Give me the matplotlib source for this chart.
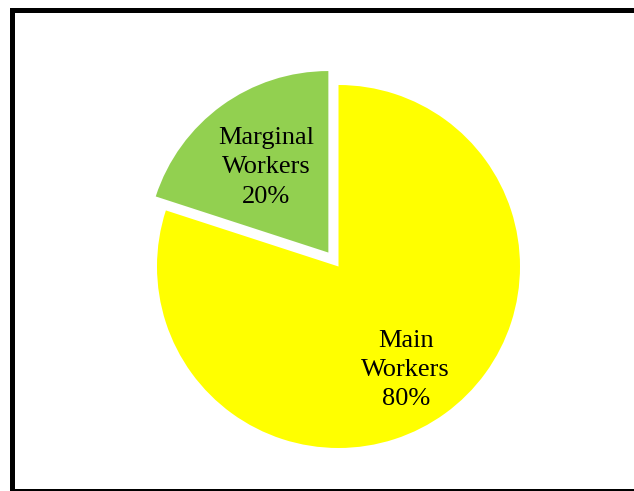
import matplotlib
matplotlib.use("Agg")
import matplotlib.pyplot as plt
from matplotlib.patches import Rectangle
import numpy as np

# Data
labels = ["Marginal\nWorkers", "Main\nWorkers"]
shares = [20, 80]
colors = ["#92D050", "#FFFF00"]
explode = [0.095, 0]

W, H = 634, 491
R = 181.5           # pie radius in pixels
cx, cy = 338.5, 266.5  # pie centre, pixels from top-left

fig = plt.figure(figsize=(W / 100, H / 100), dpi=100)
ax = fig.add_axes([0, 0, 1, 1])

wedges, texts = ax.pie(shares, colors=colors, explode=explode, startangle=90,
                       counterclock=True, radius=1.0,
                       wedgeprops=dict(linewidth=0))

# place labels inside the wedges (distance, angle tweak)
label_pos = [(0.58, 0.0), (0.68, -3.0)]
for w, lab, s, (d, da) in zip(wedges, labels, shares, label_pos):
    ang = np.deg2rad((w.theta1 + w.theta2) / 2 + da)
    x0, y0 = w.center
    ax.text(x0 + d * np.cos(ang), y0 + d * np.sin(ang), f"{lab}\n{s}%",
            ha="center", va="center", fontsize=19, family="Liberation Serif",
            linespacing=1.42)

ax.set_xlim(-cx / R, (W - cx) / R)
ax.set_ylim(-(H - cy) / R, cy / R)
ax.set_aspect("auto")
ax.axis("off")

# outer border
fig.patches.append(Rectangle((11.5 / W, 0.5 / H), 1.2, 1 - 10 / H,
                             transform=fig.transFigure, fill=False,
                             edgecolor="black", linewidth=3.6))

fig.savefig("out.png", dpi=100)
